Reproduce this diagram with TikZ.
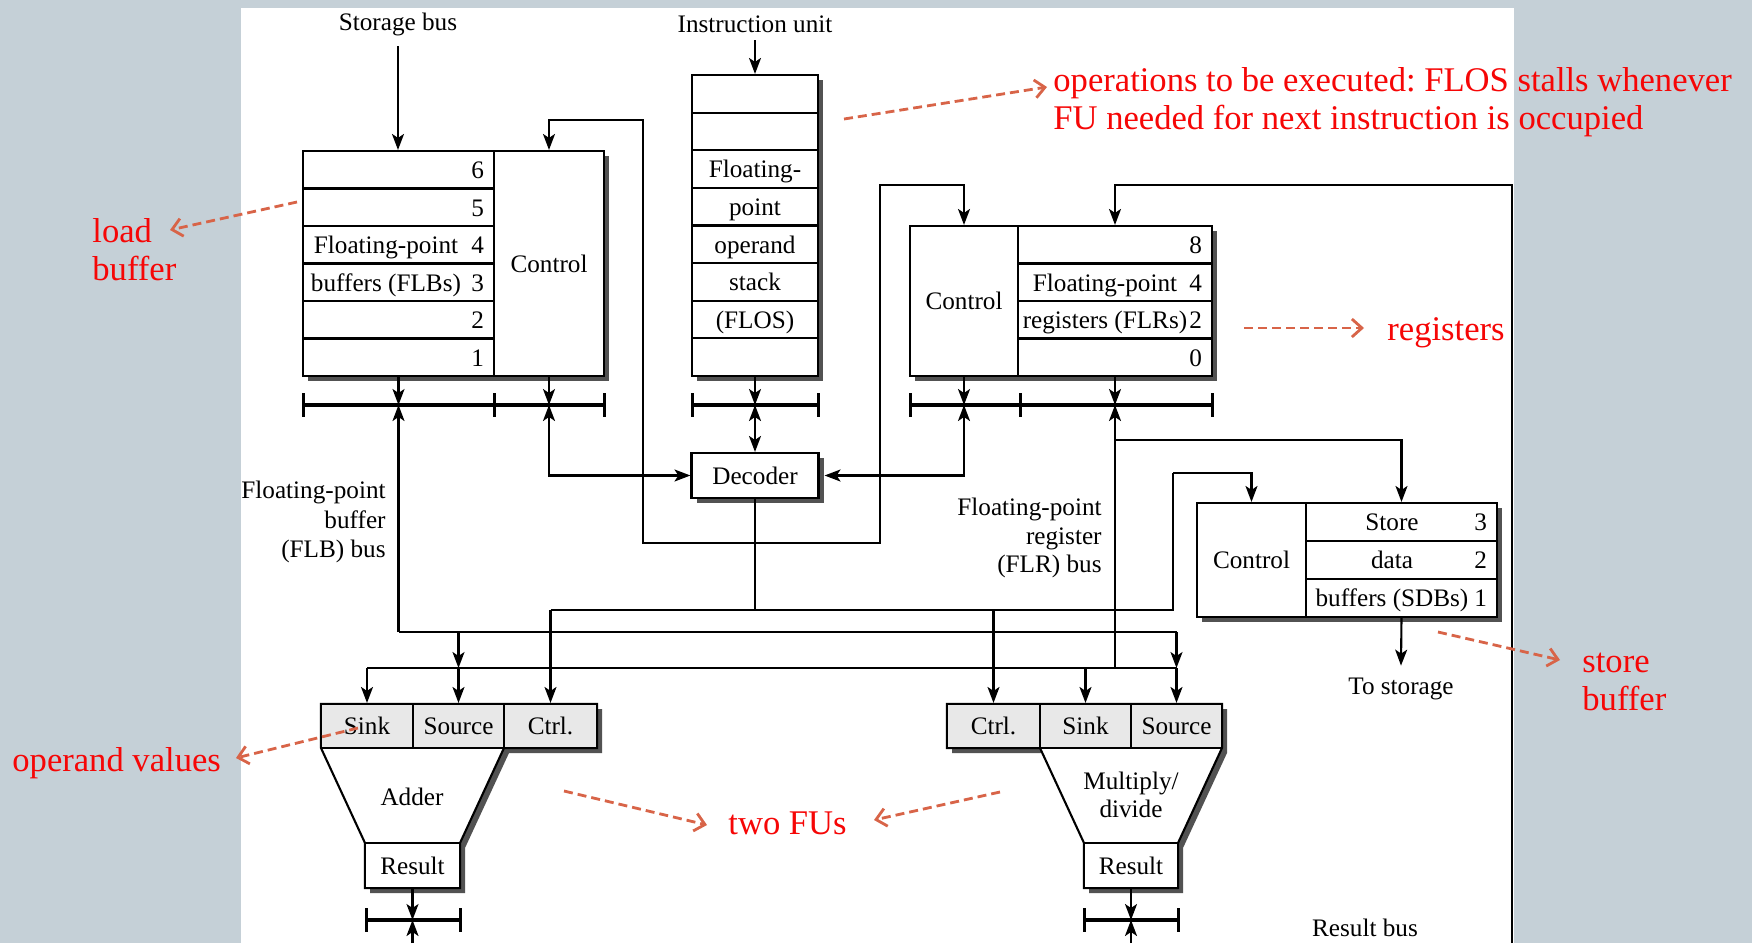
\documentclass[tikz,border=0pt]{standalone}
\usepackage{fontspec}
\setmainfont{Liberation Serif}
\usetikzlibrary{arrows.meta,shadows}
\frenchspacing

\definecolor{slate}{RGB}{197,208,215}
\definecolor{notered}{RGB}{246,6,6}
\definecolor{notearrow}{RGB}{216,100,72}
\definecolor{shade}{RGB}{82,82,82}
\definecolor{cellgray}{RGB}{232,232,232}

\begin{document}
\begin{tikzpicture}[
  x=0.5pt, y=-0.5pt,
  txt/.style={font=\fontsize{12.6}{14}\selectfont, inner sep=0pt},
  cell/.style={draw, line width=1.05pt, fill=white, inner sep=0pt,
    text height=10pt, text depth=1.2pt, font=\fontsize{12.6}{14}\selectfont},
  shadowed/.style={drop shadow={opacity=1, fill=shade, shadow xshift=2.5pt, shadow yshift=-2.5pt}},
  boxed/.style={cell, shadowed},
  unit/.style={draw, line width=1.05pt, fill=white, shadowed},
  wire/.style={line width=1.05pt},
  tip/.style={-{Stealth[length=8pt,width=6pt,inset=2pt]}},
  tips/.style={{Stealth[length=8pt,width=6pt,inset=2pt]}-{Stealth[length=8pt,width=6pt,inset=2pt]}},
  bus/.style={line width=2pt},
  tick/.style={line width=1.5pt},
  note/.style={font=\fontsize{17.3}{19}\selectfont, text=notered, inner sep=0pt, align=left, anchor=west},
  pointer/.style={notearrow, line width=1.4pt, dash pattern=on 4.5pt off 2.5pt,
    -{Straight Barb[length=5pt,width=9pt]}},
]
\useasboundingbox (0,0) rectangle (1752,943);
% slide backdrop and figure panel
\fill[slate] (0,0) rectangle (1752,943);
\fill[white] (241,8) rectangle (1514,943);

% ---------- top labels ----------
\node[txt] (sbus) at (398,24) {Storage bus};
\node[txt] (iunit) at (755,24) {Instruction unit};

% ---------- floating-point buffers ----------
\node[boxed, minimum width=150.5pt, minimum height=112.5pt] (flb) at (453.5,263.5) {};
\foreach \n [count=\i] in {6,5,4,3,2,1} {
  \node[cell, minimum width=95.5pt, minimum height=18.75pt] (flb\n) at (398.5,{151+37.5*(\i-0.5)}) {};
  \node[cell, draw=none, fill=none, anchor=east] at ([xshift=-5pt]flb\n.east) {\n};
}
\node[cell, draw=none, fill=none] at ([xshift=-6.25pt]flb4.center) {Floating-point};
\node[cell, draw=none, fill=none] at ([xshift=-6.25pt]flb3.center) {buffers (FLBs)};
\node[cell, minimum width=55pt, minimum height=112.5pt] (flbctl) at (549,263.5) {Control};

% ---------- floating-point operand stack ----------
\node[boxed, minimum width=63pt, minimum height=150.5pt] (flos) at (755,225.5) {};
\foreach \t [count=\i] in {{},{},{Floating-},{point},{operand},{stack},{(FLOS)},{}}
  \node[cell, minimum width=63pt, minimum height=18.8125pt] (flos\i) at (755,{75+37.625*(\i-0.5)}) {\t};

% ---------- floating-point registers ----------
\node[boxed, minimum width=151pt, minimum height=75pt] (flr) at (1061,301) {};
\node[cell, minimum width=54pt, minimum height=75pt] (flrctl) at (964,301) {Control};
\foreach \n [count=\i] in {8,4,2,0} {
  \node[cell, minimum width=97pt, minimum height=18.75pt] (flr\n) at (1115,{226+37.5*(\i-0.5)}) {};
  \node[cell, draw=none, fill=none, anchor=east] at ([xshift=-5pt]flr\n.east) {\n};
}
\node[cell, draw=none, fill=none] at ([xshift=-5pt]flr4.center) {Floating-point};
\node[cell, draw=none, fill=none] at ([xshift=-5pt]flr2.center) {registers (FLRs)};

% ---------- decoder ----------
\node[boxed, minimum width=63.5pt, minimum height=22.5pt] (dec) at (755,475.5) {Decoder};

% ---------- store data buffers ----------
\node[boxed, minimum width=150pt, minimum height=57pt] (sdb) at (1347,560) {};
\node[cell, minimum width=54.5pt, minimum height=57pt] (sdbctl) at (1251.5,560) {Control};
\foreach \n [count=\i] in {3,2,1} {
  \node[cell, minimum width=95.5pt, minimum height=19pt] (sdb\n) at (1401.5,{503+38*(\i-0.5)}) {};
  \node[cell, draw=none, fill=none, anchor=east] at ([xshift=-5pt]sdb\n.east) {\n};
}
\node[cell, draw=none, fill=none] at ([xshift=-4.75pt]sdb3.center) {Store};
\node[cell, draw=none, fill=none] at ([xshift=-4.75pt]sdb2.center) {data};
\node[cell, draw=none, fill=none] at ([xshift=-4.75pt]sdb1.center) {buffers (SDBs)};
\node[txt] (tostor) at (1401,689) {To storage};

% ---------- adder ----------
\path[unit] (321,704) -- (597,704) -- (597,748) -- (504,748) -- (460,843) -- (460,888)
  -- (365,888) -- (365,843) -- (321,748) -- cycle;
\node[cell, fill=cellgray, minimum width=46pt, minimum height=22pt] (asink) at (367,726) {Sink};
\node[cell, fill=cellgray, minimum width=45.5pt, minimum height=22pt] (asrc) at (458.5,726) {Source};
\node[cell, fill=cellgray, minimum width=46.5pt, minimum height=22pt] (actl) at (550.5,726) {Ctrl.};
\node[txt] (adder) at (412,797) {Adder};
\node[cell, minimum width=47.5pt, minimum height=22.5pt] (ares) at (412.5,865.5) {Result};

% ---------- multiply/divide ----------
\path[unit] (947,704) -- (1222,704) -- (1222,748) -- (1178,843) -- (1178,888)
  -- (1084,888) -- (1084,843) -- (1040,748) -- (947,748) -- cycle;
\node[cell, fill=cellgray, minimum width=46.5pt, minimum height=22pt] (mctl) at (993.5,726) {Ctrl.};
\node[cell, fill=cellgray, minimum width=45.5pt, minimum height=22pt] (msink) at (1085.5,726) {Sink};
\node[cell, fill=cellgray, minimum width=45.5pt, minimum height=22pt] (msrc) at (1176.5,726) {Source};
\node[txt, align=center] (muldiv) at (1131,795) {Multiply/\\divide};
\node[cell, minimum width=47pt, minimum height=22.5pt] (mres) at (1131,865.5) {Result};

% ---------- bus bars ----------
\coordinate (flbbus) at (453.5,405);
\coordinate (flosbus) at (755,405);
\coordinate (flrbus) at (1061,405);
\draw[bus] (303,405) -- (604,405);
\foreach \t in {303,494,604} \draw[tick] (\t,393) -- (\t,417);
\draw[bus] (692,405) -- (818,405);
\foreach \t in {692,818} \draw[tick] (\t,393) -- (\t,417);
\draw[bus] (910,405) -- (1212,405);
\foreach \t in {910,1020,1212} \draw[tick] (\t,393) -- (\t,417);
\coordinate (aresbus) at (412.5,920);
\coordinate (mresbus) at (1131,920);
\draw[bus] (366,920) -- (460,920);
\foreach \t in {366,460} \draw[tick] (\t,908) -- (\t,932);
\draw[bus] (1084,920) -- (1178,920);
\foreach \t in {1084,1178} \draw[tick] (\t,908) -- (\t,932);

% ---------- junction points ----------
\coordinate (loopA) at (643,120);
\coordinate (loopB) at (880,543);
\coordinate (loopC) at (880,185);
\coordinate (rbBot) at (1512,943);
\coordinate (rbTop) at (1512,185);
\coordinate (jflb) at (398.5,632);
\coordinate (jflr) at (1115,668);
\coordinate (sdbtap) at (1115,440);
\coordinate (jdec) at (755,610);
\coordinate (jsdb) at (1173,610);
\coordinate (sdbturn) at (1173,473);
\coordinate (abot) at (412.5,943);
\coordinate (mbot) at (1131,943);

% ---------- connectors ----------
\draw[wire,tip] ([yshift=-11pt]sbus.center) -- (sbus.center |- flb.north);
\draw[wire,tip] ([yshift=-8pt]iunit.center) -- (flos.north);

\draw[wire,tips] (flbctl.north) -- (flbctl.north |- loopA) -- (loopA) -- (loopA |- loopB)
  -- (loopB) -- (loopC) -- (loopC -| flrctl.north) -- (flrctl.north);
\draw[wire,tip] (rbBot) -- (rbTop) -- (rbTop -| flr8.north) -- (flr8.north);

\draw[wire,tip] (flb1.south) -- (flb1.south |- flbbus);
\draw[wire,tip] (flbctl.south) -- (flbctl.south |- flbbus);
\draw[wire,tip] (flos.south) -- (flos.south |- flosbus);
\draw[wire,tip] (flrctl.south) -- (flrctl.south |- flrbus);
\draw[wire,tip] (flr0.south) -- (flr0.south |- flrbus);

\draw[wire,tips] (flbctl.south |- flbbus) |- (dec.west);
\draw[wire,tips] (flrctl.south |- flrbus) |- ([xshift=2.5pt]dec.east);
\draw[wire,tips] (flosbus) -- (dec.north);

\draw[wire,tip] (jflb) -- (jflb |- flbbus);
\draw[wire,tip] (jflr) -- (jflr |- flrbus);
\draw[wire,tip] (sdbtap) -| (sdb3.north);

\draw[wire] (dec.south) -- (jdec);
\draw[wire] (jdec -| actl.north) -- (jsdb) -- (sdbturn);
\draw[wire,tip] (sdbturn) -| (sdbctl.north);
\draw[wire,tip] (jdec -| actl.north) -- (actl.north);
\draw[wire,tip] (jdec -| mctl.north) -- (mctl.north);

\draw[wire] (jflb) -- (jflb -| msrc.north);
\draw[wire] (jflr -| asink.north) -- (jflr -| msrc.north);
\draw[wire,tip] (jflb -| asrc.north) -- (jflr -| asrc.north);
\draw[wire,tip] (jflr -| asrc.north) -- (asrc.north);
\draw[wire,tip] (jflb -| msrc.north) -- (jflr -| msrc.north);
\draw[wire,tip] (jflr -| msrc.north) -- (msrc.north);
\draw[wire,tip] (jflr -| asink.north) -- (asink.north);
\draw[wire,tip] (jflr -| msink.north) -- (msink.north);

\draw[wire,tip] (sdb1.south) -- ([yshift=6pt]tostor.north);

\draw[wire,tip] (ares.south) -- (aresbus);
\draw[wire,tip] (abot) -- (aresbus);
\draw[wire,tip] (mres.south) -- (mresbus);
\draw[wire,tip] (mbot) -- (mresbus);

% ---------- bus names ----------
\node[txt, align=right, anchor=east, font=\fontsize{12.6}{14.6}\selectfont] (flbname) at (386,522) {Floating-point\\buffer\\(FLB) bus};
\node[txt, align=right, anchor=east, font=\fontsize{12.6}{14.4}\selectfont] (flrname) at (1102,538) {Floating-point\\register\\(FLR) bus};
\node[txt] (rbname) at (1365,928) {Result bus};

% ---------- annotations ----------
\node[note] (nops) at (1053,102) {operations to be executed: FLOS stalls whenever\\FU needed for next instruction is occupied};
\node[note] (nload) at (92,250) {load\\buffer};
\node[note] (nregs) at (1387,333) {registers};
\node[note] (nstore) at (1582,682) {store\\buffer};
\node[note] (nopnd) at (12,763) {operand values};
\node[note] (nfus) at (728,823) {two FUs};

\coordinate (p1s) at (844,119);   \coordinate (p1e) at (1047,87);
\coordinate (p2s) at (297,202);   \coordinate (p2e) at (170,230);
\coordinate (p3s) at (1244,328);  \coordinate (p3e) at (1364,328);
\coordinate (p4s) at (1438,632);  \coordinate (p4e) at (1560,660);
\coordinate (p5s) at (358,728);   \coordinate (p5e) at (236,758);
\coordinate (p6s) at (564,791);   \coordinate (p6e) at (707,825);
\coordinate (p7s) at (1000,792);  \coordinate (p7e) at (874,820);
\foreach \k in {1,...,7} \draw[pointer] (p\k s) -- (p\k e);
\end{tikzpicture}
\end{document}
